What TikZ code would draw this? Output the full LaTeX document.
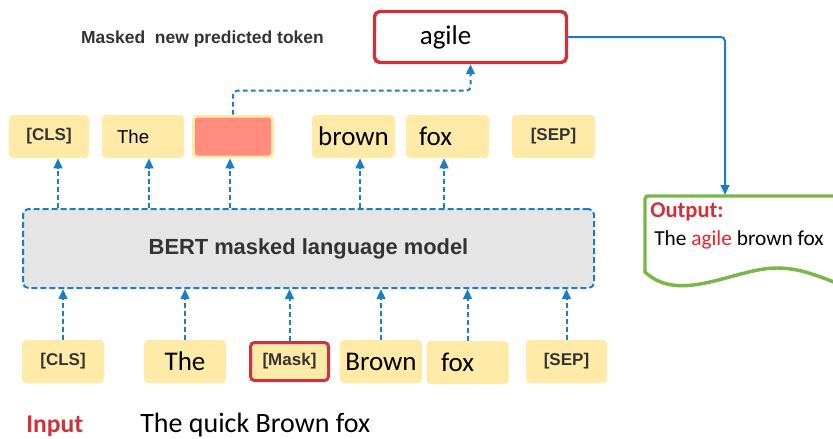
\documentclass[tikz,border=0pt]{standalone}
\usepackage{fontspec}
\setmainfont{Carlito}
\newfontfamily\arialfont{Liberation Sans}
\usetikzlibrary{arrows.meta}
\definecolor{tokenyellow}{HTML}{FFEAA7}
\definecolor{maskfill}{HTML}{FF8C7D}
\definecolor{maskred}{HTML}{CE323C}
\definecolor{bertblue}{HTML}{1A7EC0}
\definecolor{bertgray}{HTML}{E5E5E5}
\definecolor{docgreen}{HTML}{7AB648}
\definecolor{labelgray}{HTML}{333333}
\definecolor{agilered}{HTML}{F0202A}

\begin{document}
\begin{tikzpicture}[x=0.75pt,y=-0.75pt,
    token/.style={fill=tokenyellow,rounded corners=3pt,inner sep=0pt,
      minimum width=61.5pt,minimum height=32.25pt,
      font=\fontsize{20.25}{24}\selectfont},
    special/.style={token,text=labelgray,
      font=\arialfont\bfseries\fontsize{12.75}{15}\selectfont},
    dasharrow/.style={draw=bertblue,line width=1.5pt,
      dash pattern=on 3.5pt off 2.5pt,-{Triangle[length=7.5pt,width=6.5pt]}},
    solidarrow/.style={draw=bertblue,line width=1.5pt,rounded corners=3pt,
      -{Triangle[length=7.5pt,width=6.5pt]}}]
          \useasboundingbox (0,0) rectangle (833,439);
          \clip (0,0) rectangle (833,439);

          % top row: predicted tokens
          \node[special,minimum width=60pt] (clsT) at (49,136.5) {[CLS]};
          \node[token,align=left,inner xsep=11.25pt,text width=39pt,
            font=\arialfont\fontsize{14}{16}\selectfont] (theT) at (143,136.5) {The};
          \node[token] (maskT) at (233,136.5) {};
          \node[fill=maskfill,rounded corners=2pt,minimum width=57pt,minimum height=28.5pt] (maskhole) at (233,136.5) {};
          \node[token,minimum width=62.25pt] (brownT) at (353.5,136.5) {brown};
          \node[token,align=left,inner xsep=9.75pt,text width=42.75pt] (foxT) at (447.5,136.5) {fox};
          \node[special,minimum width=62.25pt] (sepT) at (553.5,136.5) {[SEP]};

          \node[draw=bertblue,line width=1.5pt,dash pattern=on 4.5pt off 2.25pt,
            fill=bertgray,rounded corners=4pt,minimum width=428.25pt,minimum height=59.25pt,
            text=labelgray,font=\arialfont\bfseries\fontsize{16.4}{19}\selectfont]
            (bert) at (308.5,248.5) {BERT masked language model};

          % bottom row: input tokens
          \node[special] (clsB) at (63,361.5) {[CLS]};
          \node[token] (theB) at (185,361.5) {The};
          \node[special,draw=maskred,line width=2.25pt,minimum width=58.5pt,minimum height=28.5pt] (maskB) at (289.5,361.5) {[Mask]};
          \node[token] (brownB) at (381,361.5) {Brown};
          \node[token,align=left,inner xsep=10.5pt,text width=39.75pt] (foxB) at (467.5,362.5) {fox};
          \node[special,minimum width=60.75pt] (sepB) at (566.5,361.5) {[SEP]};

          \node[draw=maskred,line width=2.6pt,rounded corners=4pt,inner sep=0pt,
            minimum height=38.25pt,align=left,inner xsep=34pt,text width=76pt,
            font=\fontsize{20.25}{24}\selectfont] (agile) at (470.5,37) {agile};

          \node[text=labelgray,font=\arialfont\bfseries\fontsize{13.1}{15}\selectfont]
            (maskedlabel) at (202.5,39) {Masked\ \ new predicted token};
          \node[anchor=base west,inner sep=0pt,text=maskred,font=\bfseries\fontsize{19.2}{22}\selectfont]
            (inputlabel) at (26,432) {Input};
          \node[anchor=base west,inner sep=0pt,font=\fontsize{21}{24}\selectfont]
            (inputtext) at (140,432) {The quick Brown fox};

          % output document
          \draw[docgreen,line width=2.6pt,fill=white] (870,196) -- (649,196) .. controls (646,196) .. (645,199)
            -- (645,272) .. controls (680,305) and (735,268) .. (777,268)
            .. controls (810,268) and (835,285) .. (870,295);
          \node[anchor=base west,inner sep=0pt,text=maskred,font=\bfseries\fontsize{16.9}{20}\selectfont]
            (outputlabel) at (650,217) {Output:};
          \node[anchor=base west,inner sep=0pt,font=\fontsize{16}{19}\selectfont]
            (outputtext) at (654,245) {The \textcolor{agilered}{agile} brown fox};
          \coordinate (docin) at (725,195);

          % arrows into the model
          \draw[dasharrow] (clsB.north) -- (clsB.north |- bert.south);
          \draw[dasharrow] (theB.north) -- (theB.north |- bert.south);
          \draw[dasharrow] (maskB.north) -- (maskB.north |- bert.south);
          \draw[dasharrow] (brownB.north) -- (brownB.north |- bert.south);
          \draw[dasharrow] (foxB.north) -- (foxB.north |- bert.south);
          \draw[dasharrow] (sepB.north) -- (sepB.north |- bert.south);

          % arrows out of the model
          \coordinate (clsTin) at ([xshift=6.75pt]clsT.south);
          \coordinate (theTin) at ([xshift=4.5pt]theT.south);
          \coordinate (maskTin) at ([xshift=-2.25pt]maskT.south);
          \coordinate (brownTin) at ([xshift=4.9pt]brownT.south);
          \coordinate (foxTin) at ([xshift=-2.6pt]foxT.south);
          \draw[dasharrow] (clsTin |- bert.north) -- (clsTin);
          \draw[dasharrow] (theTin |- bert.north) -- (theTin);
          \draw[dasharrow] (maskTin |- bert.north) -- (maskTin);
          \draw[dasharrow] (brownTin |- bert.north) -- (brownTin);
          \draw[dasharrow] (foxTin |- bert.north) -- (foxTin);

          \draw[dasharrow,rounded corners=3pt] (maskT.north) -- ++(0,-24) -| (agile.south);
          \draw[solidarrow] (agile.east) -| (docin);
        \end{tikzpicture}
\end{document}
